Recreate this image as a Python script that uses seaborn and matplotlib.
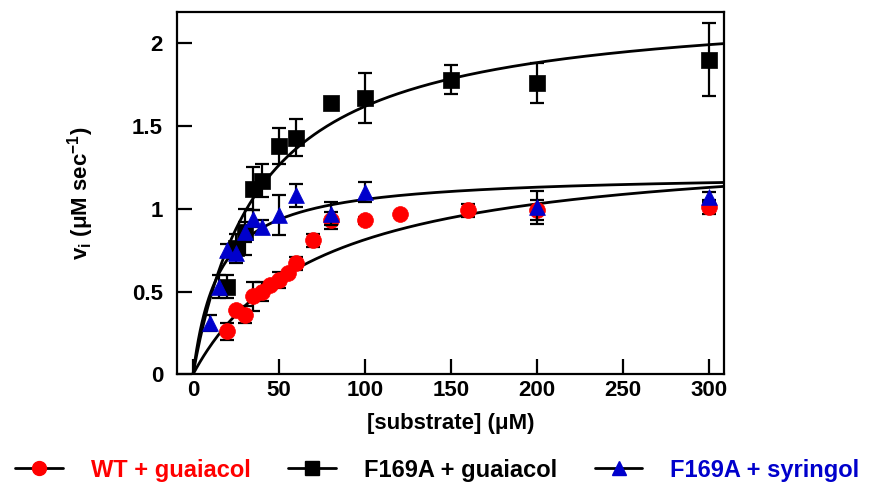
import numpy as np
import pandas as pd
import matplotlib
matplotlib.use("Agg")
import matplotlib.pyplot as plt
from matplotlib.lines import Line2D
import seaborn as sns

# WT + guaiacol (red circles)
wt_x = [20, 25, 30, 35, 40, 45, 50, 55, 60, 70, 80, 100, 120, 160, 200, 300]
wt_y = [0.26, 0.39, 0.36, 0.47, 0.50, 0.54, 0.57, 0.61, 0.67, 0.81, 0.93, 0.93, 0.97, 0.99, 0.99, 1.01]
wt_err = [0.05, 0.0, 0.05, 0.09, 0.06, 0.0, 0.05, 0.0, 0.04, 0.04, 0.05, 0.02, 0.0, 0.04, 0.06, 0.04]

# F169A + guaiacol (black squares)
f_gua_x = [20, 25, 30, 35, 40, 50, 60, 80, 100, 150, 200, 300]
f_gua_y = [0.53, 0.76, 0.86, 1.12, 1.17, 1.38, 1.43, 1.64, 1.67, 1.78, 1.76, 1.90]
f_gua_err = [0.07, 0.09, 0.14, 0.13, 0.10, 0.11, 0.11, 0.0, 0.15, 0.09, 0.12, 0.22]

# F169A + syringol (blue triangles)
f_syr_x = [10, 15, 20, 25, 30, 35, 40, 50, 60, 80, 100, 200, 300]
f_syr_y = [0.31, 0.53, 0.75, 0.73, 0.86, 0.94, 0.89, 0.96, 1.08, 0.97, 1.10, 1.01, 1.07]
f_syr_err = [0.05, 0.07, 0.04, 0.04, 0.06, 0.05, 0.04, 0.12, 0.07, 0.07, 0.06, 0.10, 0.03]

# Michaelis-Menten fit parameters (Vmax, Km)
fits = {"WT + guaiacol": (1.40, 72.0),
        "F169A + guaiacol": (2.25, 39.0),
        "F169A + syringol": (1.215, 15.0)}

series = [
    ("F169A + guaiacol", f_gua_x, f_gua_y, f_gua_err, "black", "s"),
    ("WT + guaiacol", wt_x, wt_y, wt_err, "red", "o"),
    ("F169A + syringol", f_syr_x, f_syr_y, f_syr_err, "#0000cc", "^"),
]

sns.set_style("ticks")
plt.rcParams["font.family"] = ["Liberation Sans", "DejaVu Sans"]
plt.rcParams["font.weight"] = "bold"
plt.rcParams["mathtext.fontset"] = "custom"
plt.rcParams["mathtext.rm"] = "Liberation Sans:bold"
plt.rcParams["mathtext.default"] = "rm"
for key in ["text.color", "axes.labelcolor", "xtick.color", "ytick.color", "axes.edgecolor"]:
    plt.rcParams[key] = "black"

fig = plt.figure(figsize=(8.75, 4.86), dpi=100)
ax = fig.add_axes([0.2023, 0.2298, 0.6255, 0.7461])

# fitted curves
s = np.linspace(0, 310, 300)
for name, (vmax, km) in fits.items():
    curve = pd.DataFrame({"S": s, "v": vmax * s / (km + s)})
    sns.lineplot(data=curve, x="S", y="v", ax=ax, color="black", lw=2, zorder=1)

for i, (name, x, y, err, col, mk) in enumerate(series):
    ax.errorbar(x, y, yerr=err, fmt="none", ecolor="black", elinewidth=1.6,
                capsize=5, capthick=1.6, zorder=2 + i)
    sns.scatterplot(x=x, y=y, ax=ax, color=col, marker=mk, s=130,
                    edgecolor=col, linewidth=0.5, zorder=2.5 + i)

ax.set_xlim(-9.3, 308.7)
ax.set_ylim(0, 2.19)
ax.set_xticks([0, 50, 100, 150, 200, 250, 300])
ax.set_yticks([0, 0.5, 1, 1.5, 2])
ax.set_yticklabels(["0", "0.5", "1", "1.5", "2"])
ax.tick_params(direction="in", length=11, width=1.6, labelsize=16, colors="black")
ax.tick_params(axis="y", pad=10)
ax.tick_params(axis="x", pad=4)
for sp in ax.spines.values():
    sp.set_linewidth(1.6)
    sp.set_color("black")
    sp.set_visible(True)

ax.set_xlabel("[substrate] (μM)", fontsize=16, fontweight="bold", labelpad=9)
ax.set_ylabel("v$_\\mathregular{i}$ (μM sec$^\\mathregular{-1}$)", fontsize=16,
              fontweight="bold", labelpad=26)

handles = [
    Line2D([], [], color="black", lw=2, marker="o", ms=10, mfc="red", mec="red"),
    Line2D([], [], color="black", lw=2, marker="s", ms=10, mfc="black", mec="black"),
    Line2D([], [], color="black", lw=2, marker="^", ms=10, mfc="#0000cc", mec="#0000cc"),
]
labels = ["WT + guaiacol", "F169A + guaiacol", "F169A + syringol"]
leg = fig.legend(handles, labels, loc="lower center", bbox_to_anchor=(0.5, -0.035),
                 ncol=3, frameon=False, fontsize=17, handlelength=2.0,
                 columnspacing=1.6, handletextpad=1.2,
                 labelcolor=["red", "black", "#0000cc"])
for t in leg.get_texts():
    t.set_fontweight("bold")

fig.savefig("out.png", dpi=100)
